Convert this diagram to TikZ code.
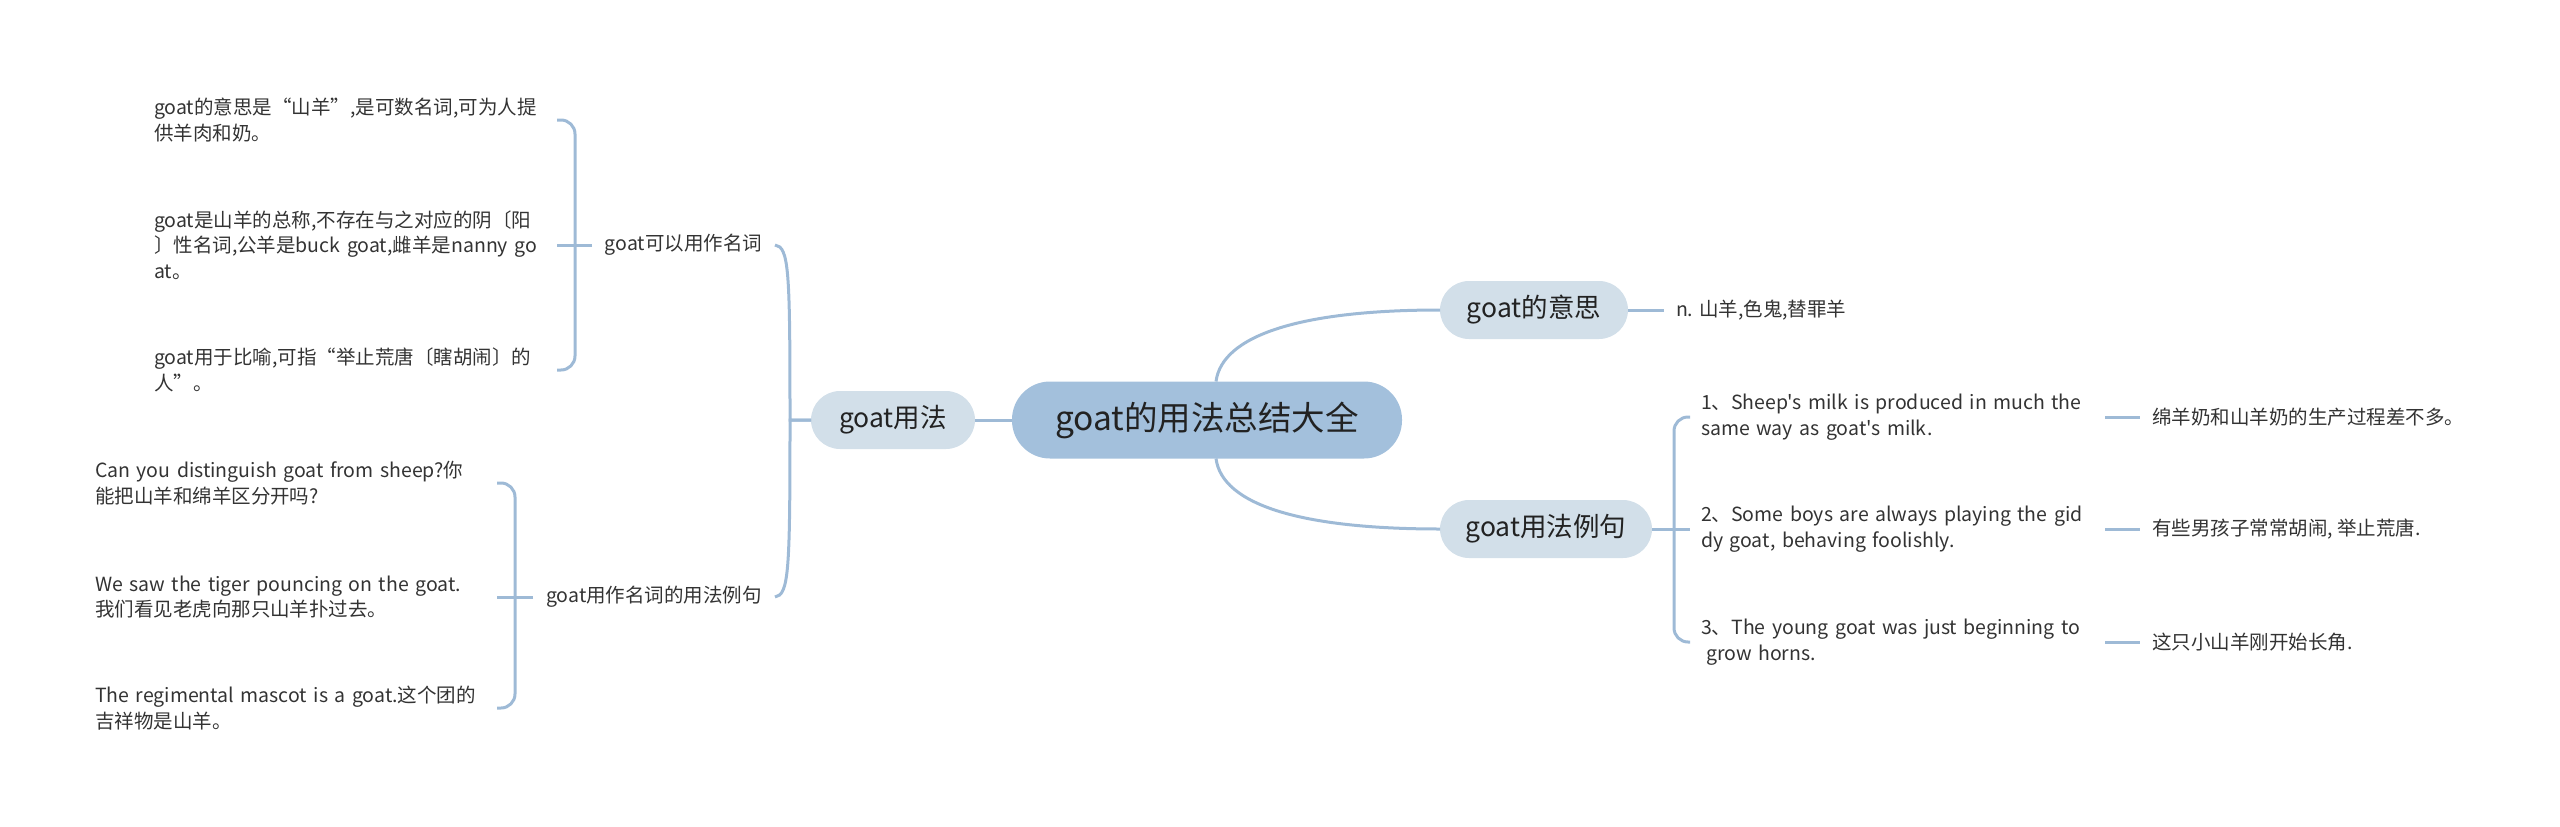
\documentclass[tikz,border=0pt]{standalone}
\usepackage{fontspec}
\setmainfont{Noto Sans CJK SC}[Ligatures=TeXOff]
\usetikzlibrary{calc}
\definecolor{edge}{HTML}{9EBAD6}
\definecolor{rootfill}{HTML}{A3C0DC}
\definecolor{subfill}{HTML}{D2DFE9}
\definecolor{txt}{HTML}{333333}
\definecolor{dark}{HTML}{222222}
\begin{document}
\begin{tikzpicture}[x=1pt,y=-1pt,
  every node/.style={text=txt, inner sep=0pt, outer sep=0pt},
  rootnode/.style={fill=rootfill, text=dark, rounded corners=38pt, minimum width=390pt, minimum height=77pt, font=\fontsize{33.5}{40}\selectfont},
  topic/.style={fill=subfill, text=dark, rounded corners=29pt, minimum height=58pt, font=\fontsize{26.5}{31}\selectfont},
  leaf/.style={align=left, font=\fontsize{19.5}{25.5}\selectfont},
  conn/.style={draw=edge, line width=3pt},
]
\useasboundingbox (0,0) rectangle (2560,827);

% main nodes
\node[rootnode] (root) at (1207,420) {goat的用法总结大全};
\node[topic, minimum width=164pt] (use) at (893,420) {goat用法};
\node[topic, minimum width=188pt] (mean) at (1534,310) {goat的意思};
\node[topic, minimum width=212pt] (ex) at (1546,529) {goat用法例句};

% left second level
\node[leaf, anchor=east, minimum width=183pt] (nA) at (775,245) {goat可以用作名词};
\node[leaf, anchor=east, minimum width=242pt] (nB) at (775,597) {goat用作名词的用法例句};

% left group A leaves
\node[leaf, anchor=west, text width=403pt] (a1) at (154,120) {\mbox{goat的意思是“山羊”,是可数名词,可为人提}\\供羊肉和奶。};
\node[leaf, anchor=west, text width=403pt] (a2) at (154,245) {\mbox{goat是山羊的总称,不存在与之对应的阴〔阳}\\\mbox{〕性名词,公羊是buck goat,雌羊是nanny go}\\at。};
\node[leaf, anchor=west, text width=403pt] (a3) at (154,370) {\mbox{goat用于比喻,可指“举止荒唐〔瞎胡闹〕的}\\人”。};

% left group B leaves
\node[leaf, anchor=west, text width=402pt] (b1) at (95,483) {\mbox{Can you distinguish goat from sheep?你}\\能把山羊和绵羊区分开吗?};
\node[leaf, anchor=west, text width=402pt] (b2) at (95,597) {\mbox{We saw the tiger pouncing on the goat.}\\我们看见老虎向那只山羊扑过去。};
\node[leaf, anchor=west, text width=402pt] (b3) at (95,708) {\mbox{The regimental mascot is a goat.这个团的}\\吉祥物是山羊。};

% right side
\node[leaf, anchor=west, inner xsep=12pt] (m1) at (1664,310) {n. 山羊,色鬼,替罪羊};

\node[leaf, anchor=west, text width=393pt, inner xsep=11pt] (c1) at (1690,417) {\mbox{1、Sheep's milk is produced in much the}\\\mbox{same way as goat's milk.}};
\node[leaf, anchor=west, text width=393pt, inner xsep=11pt] (c2) at (1690,529) {\mbox{2、Some boys are always playing the gid}\\\mbox{dy goat, behaving foolishly.}};
\node[leaf, anchor=west, text width=393pt, inner xsep=11pt] (c3) at (1690,642) {\mbox{3、The young goat was just beginning to}\\\hspace*{5pt}grow horns.};

\node[leaf, anchor=west, inner xsep=12pt] (t1) at (2140,417) {绵羊奶和山羊奶的生产过程差不多。};
\node[leaf, anchor=west, inner xsep=12pt] (t2) at (2140,529) {有些男孩子常常胡闹, 举止荒唐.};
\node[leaf, anchor=west, inner xsep=12pt] (t3) at (2140,642) {这只小山羊刚开始长角.};

% connectors
\draw[conn] (root.west) -- (use.east);
\draw[conn] ([xshift=9pt]root.north) .. controls +(6,-46) and +(-140,0) .. (mean.west);
\draw[conn] ([xshift=9pt]root.south) .. controls +(6,46) and +(-140,0) .. (ex.west);

\draw[conn] (use.west) -- ++(-21,0) .. controls +(0,-150) and +(14,2) .. (nA.east);
\draw[conn] (use.west) -- ++(-21,0) .. controls +(0,150) and +(14,-2) .. (nB.east);

\draw[conn] (nA.west) -- (a2.east);
\draw[conn, rounded corners=14pt] ([xshift=-17pt]nA.west) |- (a1.east);
\draw[conn, rounded corners=14pt] ([xshift=-17pt]nA.west) |- (a3.east);

\draw[conn] (nB.west) -- (b2.east);
\draw[conn, rounded corners=14pt] ([xshift=-18pt]nB.west) |- (b1.east);
\draw[conn, rounded corners=14pt] ([xshift=-18pt]nB.west) |- (b3.east);

\draw[conn] (mean.east) -- (m1.west);

\draw[conn] (ex.east) -- (c2.west);
\draw[conn, rounded corners=14pt] ([xshift=22pt]ex.east) |- (c1.west);
\draw[conn, rounded corners=14pt] ([xshift=22pt]ex.east) |- (c3.west);

\draw[conn] (c1.east) -- (t1.west);
\draw[conn] (c2.east) -- (t2.west);
\draw[conn] (c3.east) -- (t3.west);
\end{tikzpicture}
\end{document}
